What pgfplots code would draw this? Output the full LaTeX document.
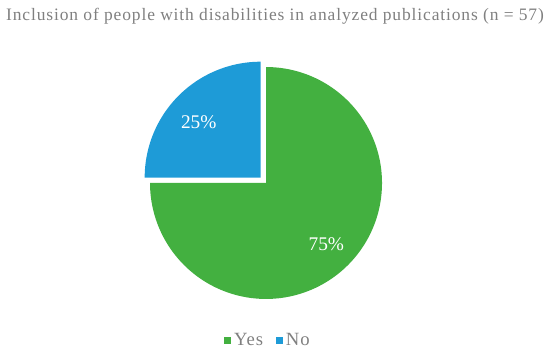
\documentclass[border=0pt]{standalone}
\usepackage{fontspec}
\setmainfont{Liberation Serif}
\newfontfamily\widefont[LetterSpace=5]{Liberation Serif}
\usepackage{pgfplots}
\usepackage{pgfplotstable}
\pgfplotsset{compat=1.18}
\definecolor{pieGreen}{RGB}{67,176,64}
\definecolor{pieBlue}{RGB}{30,155,215}
\definecolor{txtGray}{RGB}{128,128,128}
\pgfplotstableread{
label value
Yes 75
No 25
}\piedata
\pgfplotstablegetelem{0}{value}\of\piedata \let\yesval\pgfplotsretval
\pgfplotstablegetelem{1}{value}\of\piedata \let\noval\pgfplotsretval
\pgfmathsetmacro{\yesstart}{90-3.6*\yesval}
\pgfmathsetmacro{\noend}{90+3.6*\noval}
\pgfmathsetmacro{\nomid}{90+1.8*\noval}
\pgfmathsetmacro{\ex}{0.065*cos(\nomid)}
\pgfmathsetmacro{\ey}{0.065*sin(\nomid)}
\begin{document}
\begin{tikzpicture}
\begin{axis}[
  scale only axis,
  width=412.5pt, height=264.75pt,
  xmin=-2.293, xmax=2.448,
  ymin=-1.466, ymax=1.578,
  axis lines=none,
  clip=false,
  legend columns=2,
  legend style={at={(rel axis cs:0.488,0.035)}, anchor=center, draw=none, fill=none,
    font=\widefont\fontsize{14}{16}\selectfont, text=txtGray,
    /tikz/every even column/.append style={column sep=8pt}},
  legend image code/.code={\fill[#1, draw=none] (1pt,-2.6pt) rectangle (6.2pt,2.6pt);},
]
\path (rel axis cs:0,0) rectangle (rel axis cs:1,1);
\addplot[fill=pieGreen, draw=none, domain=\yesstart:90, samples=181, variable=\t, forget plot]
  ({cos(\t)},{sin(\t)}) -- (axis cs:0,0) -- cycle;
\addplot[fill=pieBlue, draw=none, domain=90:\noend, samples=61, variable=\t, forget plot]
  ({\ex+cos(\t)},{\ey+sin(\t)}) -- (axis cs:\ex,\ey) -- cycle;
\addlegendimage{fill=pieGreen, draw=none}
\addlegendentry{Yes}
\addlegendimage{fill=pieBlue, draw=none}
\addlegendentry{No}
\node[text=white, font=\fontsize{14.5}{16}\selectfont] at (axis cs:-0.58,0.52) {25\%};
\node[text=white, font=\fontsize{14.5}{16}\selectfont] at (axis cs:0.52,-0.53) {75\%};
\node[text=txtGray, font=\widefont\fontsize{13.1}{15}\selectfont] at (rel axis cs:0.5,0.955) {Inclusion of people with disabilities in analyzed publications (n = 57)};
\end{axis}
\end{tikzpicture}
\end{document}
